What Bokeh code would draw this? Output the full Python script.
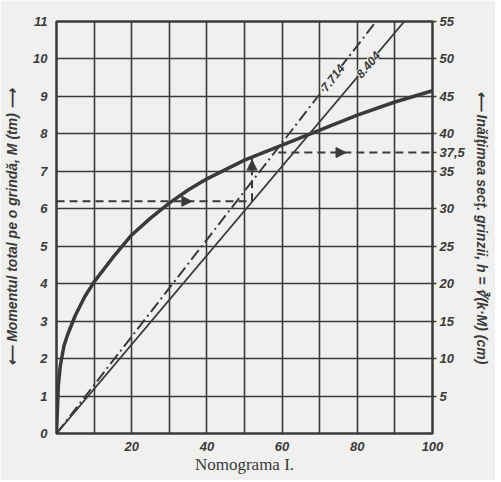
import math
from bokeh.plotting import figure
from bokeh.models import (Range1d, LinearAxis, FixedTicker, Label, Arrow, NormalHead)
from bokeh.embed import file_html
from bokeh.resources import INLINE

# ---- data ----
x_ticks = [20, 40, 60, 80, 100]
m_ticks = list(range(0, 12))
h_ticks = [5, 10, 15, 20, 25, 30, 35, 37.5, 40, 45, 50, 55]
h_labels = {5: "5", 10: "10", 15: "15", 20: "20", 25: "25", 30: "30", 35: "35",
            37.5: "37,5", 40: "40", 45: "45", 50: "50", 55: "55"}

curve_x = [0, 0.5, 1, 2, 3, 5, 7.5, 10, 15, 20, 25, 30, 35, 40, 50, 60, 70, 80, 90, 100]
curve_m = [0, 1.3, 1.8, 2.35, 2.65, 3.15, 3.65, 4.05, 4.7, 5.3, 5.75, 6.15, 6.5, 6.8, 7.3, 7.7, 8.1, 8.5, 8.85, 9.15]

line_7714_x = [0, 85]
line_7714_m = [0, 11]
line_8404_x = [0, 92.5]
line_8404_m = [0, 11]

path_a_x = [0, 51]
path_a_m = [6.2, 6.2]
path_b_x = [52, 52]
path_b_m = [6.2, 7.35]
path_c_x = [59, 100]
path_c_m = [7.5, 7.5]

TITLE = "Nomograma I."

INK = "#3a3a3a"
BG = "#f0f0ee"
FONT = "Liberation Sans"

W, H = 495, 480
BL, BR, BT, BB = 56, 63, 21, 47

p = figure(width=W, height=H, x_range=Range1d(0, 100), y_range=Range1d(0, 11),
           output_backend="svg", toolbar_location=None,
           min_border_left=BL, min_border_right=BR, min_border_top=BT, min_border_bottom=BB)
p.background_fill_color = BG
p.border_fill_color = BG
p.outline_line_color = INK
p.outline_line_width = 2.5

p.extra_y_ranges = {"h": Range1d(0, 55)}

# grid
p.xgrid.ticker = FixedTicker(ticks=list(range(0, 101, 10)))
p.ygrid.ticker = FixedTicker(ticks=m_ticks)
for g in (p.xgrid, p.ygrid):
    g.grid_line_color = INK
    g.grid_line_width = 1.6
    g.grid_line_alpha = 1.0

# bottom axis
xa = p.xaxis[0]
xa.ticker = FixedTicker(ticks=x_ticks)
xa.axis_label = TITLE
xa.axis_label_text_font = "Liberation Serif"
xa.axis_label_text_font_style = "normal"
xa.axis_label_text_font_size = "17px"
xa.axis_label_text_color = INK
xa.axis_label_standoff = 1

# left axis
ya = p.yaxis[0]
ya.ticker = FixedTicker(ticks=m_ticks)
ya.axis_label = "\u27f5 Momentul total pe o grind\u0103, M (tm) \u27f6"
ya.axis_label_standoff = 10

# right axis
ra = LinearAxis(y_range_name="h", ticker=FixedTicker(ticks=h_ticks),
                major_label_overrides=h_labels)
ra.axis_label = "\u27f5 In\u0103l\u0163imea sec\u0163. grinzii, h = \u221b(k\u00b7M) (cm)"
ra.axis_label_standoff = 6
p.add_layout(ra, "right")

for ax in (xa, ya, ra):
    ax.axis_line_color = None
    ax.minor_tick_line_color = None
    ax.major_label_text_font = FONT
    ax.major_label_text_font_style = "bold italic"
    ax.major_label_text_font_size = "13px"
    ax.major_label_text_color = INK
    ax.major_label_standoff = 3
for ax in (ya, ra):
    ax.axis_label_text_font = FONT
    ax.axis_label_text_font_style = "bold italic"
    ax.axis_label_text_font_size = "14px"
    ax.axis_label_text_color = INK
xa.major_tick_line_color = None
ya.major_tick_line_color = None
xa.major_label_standoff = 2
ra.major_tick_line_color = INK
ra.major_tick_line_width = 1.5
ra.major_tick_out = 4
ra.major_tick_in = 0

# curves
p.line(curve_x, curve_m, line_color=INK, line_width=3.5)
p.line(line_7714_x, line_7714_m, line_color=INK, line_width=2, line_dash="12 4 2 4")
p.line(line_8404_x, line_8404_m, line_color=INK, line_width=1.8)

for xs, ms in ((path_a_x, path_a_m), (path_b_x, path_b_m), (path_c_x, path_c_m)):
    p.line(xs, ms, line_color=INK, line_width=2, line_dash="8 5")

def head(x0, y0, x1, y1):
    p.add_layout(Arrow(end=NormalHead(size=10, fill_color=INK, line_color=INK),
                       x_start=x0, y_start=y0, x_end=x1, y_end=y1,
                       line_alpha=0))

head(path_a_x[0] + 33, path_a_m[0], path_a_x[0] + 36, path_a_m[0])
head(path_b_x[0], path_b_m[1] - 0.2, path_b_x[0], path_b_m[1] - 0.05)
head(path_c_x[0] + 15, path_c_m[0], path_c_x[0] + 18, path_c_m[0])

# line labels along the lines
frame_w = W - BL - BR
frame_h = H - BT - BB
def ang(dx, dm):
    return math.atan2(dm / 11 * frame_h, dx / 100 * frame_w)

for txt, xs, ms, mpos in (("7.714", line_7714_x, line_7714_m, 9.5),
                          ("8.404", line_8404_x, line_8404_m, 9.85)):
    xpos = xs[1] * mpos / ms[1]
    p.add_layout(Label(x=xpos, y=mpos, text=txt, angle=ang(xs[1], ms[1]),
                       text_align="center", text_baseline="middle",
                       text_font=FONT, text_font_style="bold italic",
                       text_font_size="12px", text_color=INK,
                       background_fill_color=BG))

open("out.html", "w").write(file_html(p, INLINE))
